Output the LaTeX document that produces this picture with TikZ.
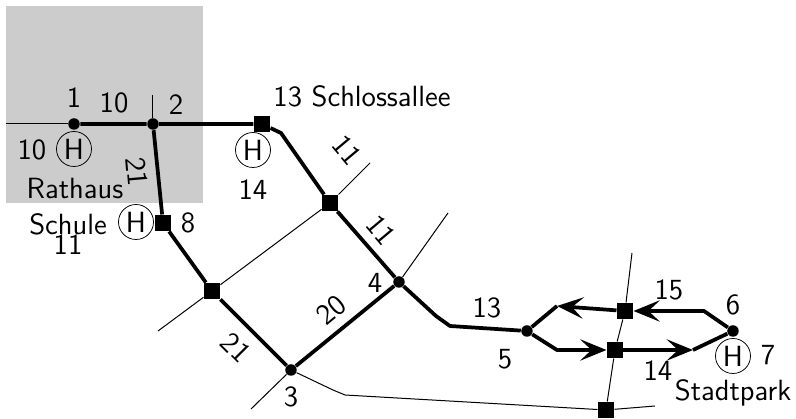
\documentclass[tikz,border=0pt]{standalone}
\usepackage{tikz}
\usetikzlibrary{arrows.meta}
\tikzset{>={Stealth[length=10.5pt,width=8.5pt,inset=4.5pt]}}
\tikzset{
  halt/.style={fill=black, inner sep=0pt, minimum size=6.4pt},
  kreuz/.style={circle, fill=black, inner sep=0pt, minimum size=4.6pt},
  hstelle/.style={circle, draw, line width=0.3pt, inner sep=0pt, minimum size=14pt},
  strecke/.style={line width=1.5pt, line join=round},
  nebenweg/.style={line width=0.4pt},
  every node/.append style={font=\fontsize{11.7}{14}\sffamily}
}

\begin{document}
\begin{tikzpicture}[x=0.4pt, y=-0.4pt]
    \useasboundingbox (0, 0) rectangle (796, 419);
    \fill[black!20] (6, 6) rectangle (203, 203);

    \foreach \name/\x/\y in {k1/74/124, k2/153/124, k3/291/370, k4/399/282, k5/527/331, k6/733/331} {
        \node[kreuz] (\name) at (\x, \y) {};
    }
    \foreach \name/\x/\y in {schloss/262/124, mitte/330/203, schule/163/223, sued/212/291, nord/625/311, ost/615/350, ende/606/410} {
        \node[halt] (\name) at (\x, \y) {};
    }
    \foreach \name/\x/\y in {a/6/124, b/153/95, c/370/163, d/448/213, e/158/331, f/251/409, g/655/406, h/632/253,
            s1/281/133, s2/436/316, s3/450/326, s4/557/306, s5/704/311, s6/557/350, s7/693/350, t1/333/390, t2/345/395} {
        \coordinate (\name) at (\x, \y);
    }

    % thin ways
    \draw[nebenweg] (a) -- (k1);
    \draw[nebenweg] (b) -- (k2);
    \draw[nebenweg] (mitte) -- (c);
    \draw[nebenweg] (mitte) -- (sued) -- (e);
    \draw[nebenweg] (k4) -- (d);
    \draw[nebenweg] (k3) -- (f);
    \draw[nebenweg] (k3) -- (t1) -- (t2) -- (ende) -- (g);
    \draw[nebenweg] (h) -- (nord) -- (ost) -- (ende);

    % main ways
    \draw[strecke] (k1) -- (k2) -- (schloss) -- (s1) -- (mitte) -- (k4) -- (s2) -- (s3) -- (k5);
    \draw[strecke] (k2) -- (schule) -- (sued) -- (k3) -- (k4);
    \draw[strecke] (k5) -- (s4);
    \draw[strecke, <-] (s4) -- (nord);
    \draw[strecke, ->] (k6) -- (s5) -- (nord);
    \draw[strecke, ->] (k5) -- (s6) -- (ost);
    \draw[strecke, ->] (ost) -- (s7);
    \draw[strecke] (s7) -- (k6);

    \node[hstelle] (h1) at (74, 149) {H};
    \node[hstelle] (h2) at (253, 150) {H};
    \node[hstelle] (h3) at (136, 222) {H};
    \node[hstelle] (h4) at (733, 356) {H};

    \node (l1) at (74, 98) {1};
    \node (l2) at (114, 103) {10};
    \node (l3) at (176, 105) {2};
    \node (l4) at (362, 96) {13 Schlossallee};
    \node (l5) at (32, 150) {10};
    \node (l6) at (75, 188) {Rathaus};
    \node[rotate=-85] (l7) at (137, 172) {21};
    \node (l8) at (68, 224) {Schule};
    \node (l9) at (68, 245) {11};
    \node (l10) at (188, 223) {8};
    \node (l11) at (253, 190) {14};
    \node[rotate=-50] (l12) at (347, 150) {11};
    \node[rotate=-50] (l13) at (381, 230) {11};
    \node (l14) at (375, 283) {4};
    \node[rotate=40] (l15) at (331, 310) {20};
    \node[rotate=-45] (l16) at (236, 348) {21};
    \node (l17) at (291, 397) {3};
    \node (l18) at (487, 308) {13};
    \node (l19) at (505, 359) {5};
    \node (l20) at (669, 290) {15};
    \node (l21) at (733, 305) {6};
    \node (l22) at (768, 355) {7};
    \node (l23) at (658, 371) {14};
    \node (l24) at (733, 393) {Stadtpark};
\end{tikzpicture}
\end{document}
